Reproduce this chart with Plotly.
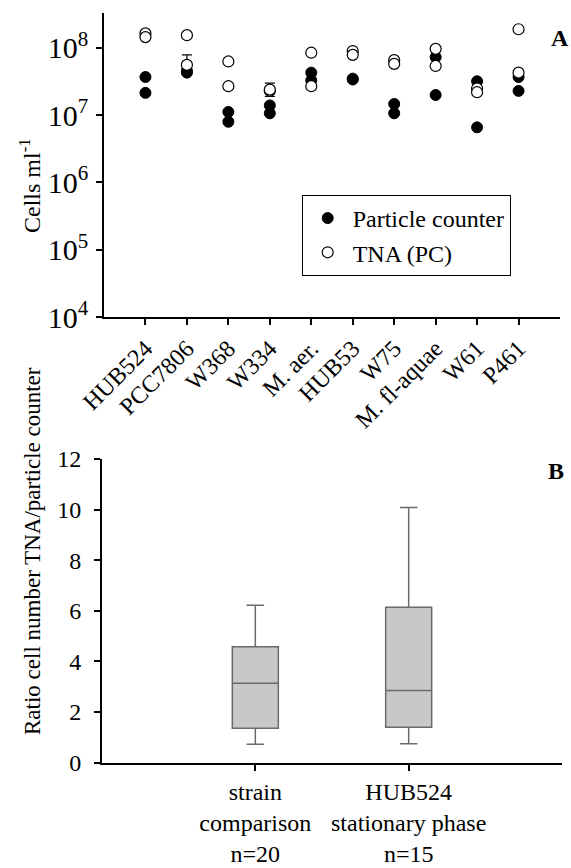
import plotly.graph_objects as go

# ---------------- Data ----------------
strains = ["HUB524", "PCC7806", "W368", "W334", "M. aer.", "HUB53",
           "W75", "M. fl-aquae", "W61", "P461"]

# Particle counter (two replicates per strain)
pc_strain = ["HUB524", "HUB524", "PCC7806", "PCC7806", "W368", "W368",
             "W334", "W334", "M. aer.", "M. aer.", "HUB53", "HUB53",
             "W75", "W75", "M. fl-aquae", "M. fl-aquae", "W61", "W61",
             "P461", "P461"]
pc_values = [3.7e7, 2.15e7, 4.6e7, 4.3e7, 1.12e7, 8.0e6,
             1.4e7, 1.07e7, 4.3e7, 3.3e7, 3.5e7, 3.4e7,
             1.47e7, 1.07e7, 7.3e7, 2.0e7, 3.2e7, 6.6e6,
             3.7e7, 2.3e7]

# TNA (PC) (two replicates per strain)
tna_strain = pc_strain
tna_values = [1.65e8, 1.45e8, 1.55e8, 5.6e7, 6.3e7, 2.7e7,
              2.3e7, 2.4e7, 8.5e7, 2.7e7, 9.0e7, 7.9e7,
              6.6e7, 5.8e7, 9.7e7, 5.4e7, 2.5e7, 2.2e7,
              1.9e8, 4.3e7]
tna_err_plus = [None, None, None, 2.3e7, None, None,
                None, 6.0e6, None, None, None, None,
                None, None, None, None, None, None,
                None, None]
tna_err_minus = [None, None, None, 0, None, None,
                 None, 5.0e6, None, None, None, None,
                 None, None, None, None, None, None,
                 None, None]

# Panel B box statistics
box_groups = [0, 1]
box_labels = ["strain<br>comparison<br>n=20", "HUB524<br>stationary phase<br>n=15"]
box_q1 = [1.36, 1.40]
box_median = [3.14, 2.85]
box_q3 = [4.58, 6.14]
box_low = [0.73, 0.75]
box_high = [6.22, 10.08]

FONT = "Liberation Serif, Times New Roman, serif"
W, H = 571, 868

fig = go.Figure()

fig.add_trace(go.Scatter(
    x=pc_strain, y=pc_values, mode="markers", name="Particle counter",
    marker=dict(symbol="circle", size=11, color="black",
                line=dict(color="black", width=1)),
    xaxis="x", yaxis="y"))

fig.add_trace(go.Scatter(
    x=tna_strain, y=tna_values, mode="markers", name="TNA (PC)",
    marker=dict(symbol="circle", size=11, color="white",
                line=dict(color="black", width=1.2)),
    error_y=dict(type="data", array=tna_err_plus, arrayminus=tna_err_minus,
                 color="black", thickness=1.2, width=5, visible=True),
    xaxis="x", yaxis="y"))

fig.add_trace(go.Box(
    x=box_groups, q1=box_q1, median=box_median, q3=box_q3,
    lowerfence=box_low, upperfence=box_high,
    fillcolor="#c8c8c8", line=dict(color="#6a6a6a", width=1.5),
    width=0.3, whiskerwidth=0.38, showlegend=False,
    xaxis="x2", yaxis="y2"))

axis_common = dict(showline=True, linecolor="black", linewidth=2,
                   showgrid=False, zeroline=False, ticks="outside",
                   ticklen=6, tickwidth=1.5, tickcolor="black",
                   automargin=False,
                   tickfont=dict(family=FONT, size=24, color="black"))

fig.update_layout(
    width=W, height=H,
    margin=dict(l=0, r=0, t=0, b=0),
    paper_bgcolor="white", plot_bgcolor="white",
    font=dict(family=FONT, size=24, color="black"),
    xaxis=dict(domain=[104 / W, 560 / W], anchor="y", type="category",
               categoryorder="array", categoryarray=strains,
               range=[-1, 10], tickangle=-45, **axis_common),
    yaxis=dict(domain=[1 - 317 / H, 1 - 13 / H], anchor="x", type="log",
               range=[4, 8.52], dtick=1, exponentformat="power",
               showexponent="all", ticklabelstandoff=3, **axis_common),
    xaxis2=dict(domain=[102 / W, 562 / W], anchor="y2",
                range=[-1, 2], tickvals=box_groups, ticktext=box_labels,
                **axis_common),
    yaxis2=dict(domain=[1 - 762.7 / H, 1 - 459 / H], anchor="x2",
                range=[0, 12], dtick=2, ticklabelstandoff=8, **axis_common),
    legend=dict(x=301.7 / W, y=1 - 195 / H, xanchor="left", yanchor="top",
                bordercolor="black", borderwidth=1, bgcolor="white",
                itemwidth=40, font=dict(family=FONT, size=24, color="black")),
    annotations=[
        dict(text="<b>A</b>", x=560 / W, y=1 - 38 / H, xref="paper", yref="paper",
             xanchor="center", yanchor="middle",
             showarrow=False, font=dict(family=FONT, size=24)),
        dict(text="<b>B</b>", x=556 / W, y=1 - 471 / H, xref="paper", yref="paper",
             xanchor="center", yanchor="middle",
             showarrow=False, font=dict(family=FONT, size=24)),
        dict(text="Cells ml<sup>-1</sup>", x=30 / W, y=1 - 186 / H,
             xref="paper", yref="paper", showarrow=False, textangle=-90,
             xanchor="center", yanchor="middle",
             font=dict(family=FONT, size=24)),
        dict(text="Ratio cell number TNA/particle counter", x=32 / W, y=1 - 551 / H,
             xref="paper", yref="paper", showarrow=False, textangle=-90,
             xanchor="center", yanchor="middle",
             font=dict(family=FONT, size=23)),
    ],
)

fig.write_html("out.html",
               config={"displayModeBar": False},
               post_script="document.body.style.margin='0';document.body.style.overflow='hidden';")
